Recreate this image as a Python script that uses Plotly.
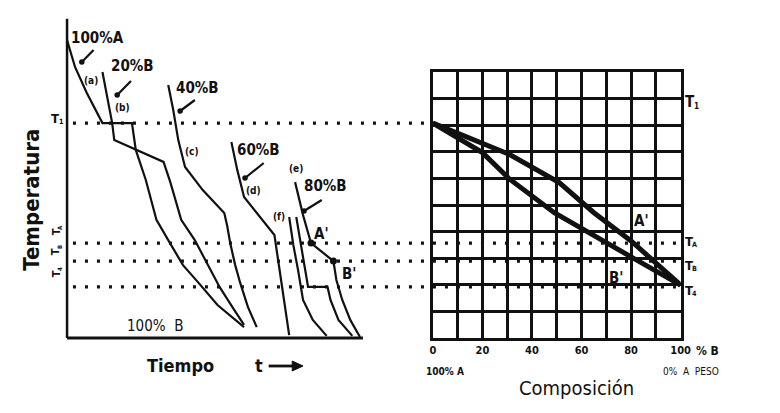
import plotly.graph_objects as go

W, H = 780, 413

# ---------------- cooling curves (left panel): time units vs temperature units ----------------
t_a = [0, 2.7, 6.7, 12, 22, 23.3, 26.7, 30.3, 34.3, 39.3, 44.3, 51, 60]
T_a = [11.2, 10.19, 9.21, 8.08, 8.08, 7.07, 5.94, 4.44, 3.68, 2.74, 2.11, 1.24, 0.41]
t_b = [12, 13.7, 15.3, 16, 32.7, 35, 38.7, 43.3, 47.7, 51.7, 56, 60]
T_b = [10.0, 8.95, 8.08, 7.44, 6.62, 5.86, 4.44, 3.68, 2.74, 1.92, 1.17, 0.49]
t_c = [34.3, 36, 37.7, 40, 46, 53.3, 54.3, 55.3, 57, 58.7, 61.3, 64.3]
T_c = [9.51, 8.57, 7.44, 6.43, 5.56, 4.7, 4.21, 3.57, 2.74, 2.07, 1.17, 0.41]
t_d = [55.7, 57.7, 60, 65, 70.3, 71.3, 72.3, 73.3, 74.3, 75.3]
T_d = [7.37, 6.32, 5.3, 4.62, 3.87, 3.12, 2.37, 1.62, 0.86, 0.11]
t_x = [75.3, 76.7, 78.3, 80, 83.3, 88]
T_x = [4.55, 3.5, 2.56, 1.43, 0.68, 0.08]
t_f = [77.7, 79.7, 81.7, 88.3, 89.3, 92, 96.7]
T_f = [4.55, 3.31, 1.92, 1.92, 1.43, 0.68, 0.08]
t_e = [77.3, 78.3, 80, 82.7, 90.3, 91.3, 93.3, 96, 99.3]
T_e = [5.86, 5.38, 4.62, 3.57, 2.89, 2.18, 1.43, 0.68, 0.04]

# points A' and B' on the 80 % B curve
pts_t = [82.7, 90.3]
pts_T = [3.57, 2.89]

# characteristic temperatures (dotted lines) and where they stop (time units)
T_levels = [8.08, 3.57, 2.89, 1.92]
level_start = [2, 2, 2, 2]
level_end = [124, 207, 207, 207]

# axes of the time-temperature frame
time_max = 100.3
temp_max = 12.0

# ---------------- phase diagram (right panel): % B vs temperature ----------------
comp_liq = [0, 31, 51, 65, 80, 100]
T_liq = [8.08, 6.9, 5.84, 4.71, 3.65, 1.99]
comp_sol = [0, 20, 31, 49, 80, 100]
T_sol = [8.08, 6.97, 5.97, 4.71, 3.05, 1.99]

comp_tickvals = [0, 20, 40, 60, 80, 100]
comp_ticktext = ["0", "20", "40", "60", "80", "100"]

FONT = "DejaVu Sans Condensed, Liberation Sans Narrow, Arial Narrow, sans-serif"
INK = "#111111"


def px(x):
    return x / W


def py(y):
    return 1 - y / H


fig = go.Figure()

curves = [(t_a, T_a), (t_b, T_b), (t_c, T_c), (t_d, T_d), (t_x, T_x), (t_f, T_f), (t_e, T_e)]
for tt, TT in curves:
    fig.add_trace(go.Scatter(x=tt, y=TT, mode="lines", xaxis="x", yaxis="y",
                             line=dict(color=INK, width=2.2), hoverinfo="skip"))

# frame lines of left panel
fig.add_trace(go.Scatter(x=[0, time_max], y=[0, 0], mode="lines", xaxis="x", yaxis="y",
                         line=dict(color=INK, width=3), hoverinfo="skip"))
fig.add_trace(go.Scatter(x=[0, 0], y=[0, temp_max], mode="lines", xaxis="x", yaxis="y",
                         line=dict(color=INK, width=2.5), hoverinfo="skip"))

# dotted temperature levels
for Tl, s, e in zip(T_levels, level_start, level_end):
    fig.add_trace(go.Scatter(x=[s, e], y=[Tl, Tl], mode="lines", xaxis="x", yaxis="y",
                             line=dict(color=INK, width=3.2, dash="3px,9px"), hoverinfo="skip"))

fig.add_trace(go.Scatter(x=pts_t, y=pts_T, mode="markers", xaxis="x", yaxis="y",
                         marker=dict(color=INK, size=7), hoverinfo="skip"))

# phase diagram lines
fig.add_trace(go.Scatter(x=comp_liq, y=T_liq, mode="lines", xaxis="x2", yaxis="y2",
                         line=dict(color=INK, width=5), hoverinfo="skip"))
fig.add_trace(go.Scatter(x=comp_sol, y=T_sol, mode="lines", xaxis="x2", yaxis="y2",
                         line=dict(color=INK, width=5), hoverinfo="skip"))

anns = []
shapes = []


def label(text, x, y, size, angle=0, weight="bold"):
    anns.append(dict(text=text, x=px(x), y=py(y), xref="paper", yref="paper",
                     showarrow=False, xanchor="center", yanchor="middle", textangle=angle,
                     borderpad=0, font=dict(family=FONT, size=size, color=INK, weight=weight)))


def tlabel(sub, x, y, size, angle=0):
    # "T" with a small subscript, built from two plain texts
    label("T", x, y, size, angle)
    if angle == 0:
        label(sub, x + size * 0.45, y + size * 0.25, size * 0.55)
    else:
        label(sub, x + size * 0.25, y - size * 0.45, size * 0.55, angle)


def leader(x0, y0, x1, y1):
    # short pointer stroke with a dot at its start
    shapes.append(dict(type="line", xref="paper", yref="paper",
                       x0=px(x0), y0=py(y0), x1=px(x1), y1=py(y1),
                       line=dict(color=INK, width=2.2)))
    r = 2.8
    shapes.append(dict(type="circle", xref="paper", yref="paper",
                       x0=px(x0 - r), x1=px(x0 + r), y0=py(y0 + r), y1=py(y0 - r),
                       fillcolor=INK, line=dict(width=0)))


# curve labels
label("100%A", 88, 30, 15)
label("(a)", 81, 72, 10)
label("20%B", 124, 58, 15)
label("(b)", 113, 99, 10)
label("40%B", 190, 80, 15)
label("(c)", 184, 143, 10)
label("60%B", 252, 142, 15)
label("(d)", 247, 183, 10)
label("80%B", 320, 178, 15)
label("(e)", 290, 160, 10)
label("(f)", 273, 209, 10)
label("A'", 316, 226, 15)
label("B'", 344, 266, 15)
label("100%  B", 146, 318, 15, weight="normal")

leader(72, 54, 84, 42)
leader(108, 87, 122, 73)
leader(172, 103, 187, 92)
leader(238, 170, 257, 155)
leader(298, 203, 316, 192)

# axis titles, left
label("Temperatura", 20, 192, 22, angle=-90)
label("Tiempo", 172, 357, 18)
label("t", 252, 357, 18)
shapes.append(dict(type="line", xref="paper", yref="paper", x0=px(262), y0=py(358),
                   x1=px(290), y1=py(358), line=dict(color=INK, width=2.8)))
shapes.append(dict(type="path", xref="paper", yref="paper",
                   path="M %f %f L %f %f L %f %f Z" % (px(286), py(353), px(297), py(358), px(286), py(363)),
                   fillcolor=INK, line=dict(color=INK, width=1)))
tlabel("1", 45, 110, 13)
tlabel("A", 46, 224, 11, angle=-90)
tlabel("B", 46, 244, 11, angle=-90)
tlabel("4", 46, 266, 11, angle=-90)

# right panel labels
tlabel("1", 690, 94, 15)
tlabel("A", 689, 233, 13)
tlabel("B", 689, 257, 13)
tlabel("4", 689, 282, 13)
label("A'", 641, 213, 15)
label("B'", 615, 270, 15)
label("% B", 708, 343, 12)
label("100% A", 441, 363, 10)
label("0%  A  PESO", 692, 363, 10, weight="normal")
label("Composición", 575, 380, 20, weight="normal")

fig.update_layout(
    width=W, height=H, margin=dict(l=0, r=0, t=0, b=0),
    paper_bgcolor="white", plot_bgcolor="rgba(0,0,0,0)", showlegend=False,
    annotations=anns, shapes=shapes,
    xaxis=dict(domain=[px(54), px(690)], range=[-1, 211], visible=False),
    yaxis=dict(domain=[py(335), py(10)], range=[-0.188, 12.03], visible=False),
    xaxis2=dict(domain=[px(429), px(681)], range=[0, 100], anchor="y2",
                tickvals=comp_tickvals, ticktext=comp_ticktext, ticks="",
                showgrid=True, gridcolor=INK, gridwidth=2.5, zeroline=False,
                minor=dict(dtick=10, showgrid=True, gridcolor=INK, gridwidth=2.5, ticks=""),
                showline=True, linecolor=INK, linewidth=2.5, mirror=True,
                tickfont=dict(family=FONT, size=11, color=INK, weight="bold")),
    yaxis2=dict(domain=[py(330), py(64)], range=[0, 10], anchor="x2", dtick=1,
                showgrid=True, gridcolor=INK, gridwidth=2.5, zeroline=False,
                showline=True, linecolor=INK, linewidth=2.5, mirror=True,
                showticklabels=False, ticks=""),
)

fig.write_html("out.html")
